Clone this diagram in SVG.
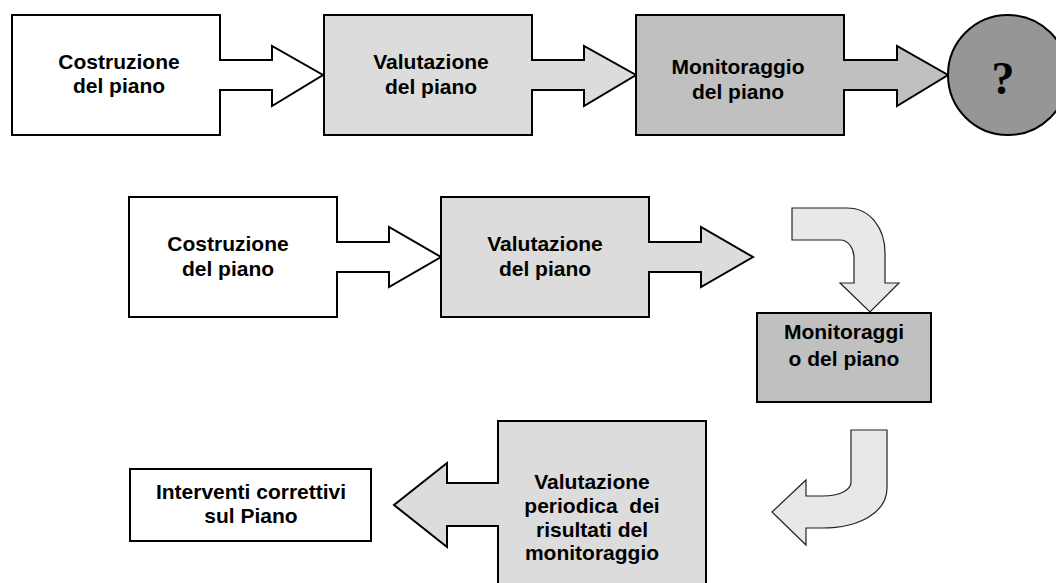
<svg xmlns="http://www.w3.org/2000/svg" width="1056" height="583" viewBox="0 0 1056 583">
<style>
.shape{stroke:#000;stroke-width:2;stroke-linejoin:miter}
.w{fill:#ffffff}
.l{fill:#dcdcdc}
.m{fill:#c0c0c0}
.c{fill:#969696}
.curve{fill:#e8e8e8;stroke:#222;stroke-width:1.2}
text{font-family:"Liberation Sans",Arial,sans-serif;font-weight:bold;font-size:21px;fill:#000;text-anchor:middle}
.q{font-family:"Liberation Serif","Times New Roman",serif;font-size:46px}
</style>
<rect width="1056" height="583" fill="#fff"/>
<g id="n1">
<polygon class="shape w" points="12,15 220,15 220,60 272,60 272,46 323,75 272,106 272,90 220,90 220,135 12,135"/>
<text x="119" y="69">Costruzione</text>
<text x="119" y="93">del piano</text>
</g>
<g id="n2">
<polygon class="shape l" points="324,15 532,15 532,60 584,60 584,46 636,75 584,106 584,90 532,90 532,135 324,135"/>
<text x="431" y="69">Valutazione</text>
<text x="431" y="94">del piano</text>
</g>
<g id="n3">
<polygon class="shape m" points="636,15 844,15 844,60 897,60 897,46 948,75 897,106 897,90 844,90 844,135 636,135"/>
<text x="738" y="74">Monitoraggio</text>
<text x="738" y="99">del piano</text>
</g>
<g id="n4">
<circle class="shape c" cx="1008" cy="75" r="60"/>
<text class="q" x="1003" y="94">?</text>
</g>
<g id="n5">
<polygon class="shape w" points="129,197 337,197 337,242 389,242 389,227 441,257 389,287 389,272 337,272 337,317 129,317"/>
<text x="228" y="251">Costruzione</text>
<text x="228" y="276">del piano</text>
</g>
<g id="n6">
<polygon class="shape l" points="441,197 649,197 649,242 701,242 701,227 753,257 701,287 701,272 649,272 649,317 441,317"/>
<text x="545" y="251">Valutazione</text>
<text x="545" y="276">del piano</text>
</g>
<g id="n7">
<rect class="shape m" x="757" y="313" width="174" height="89"/>
<text x="844" y="339">Monitoraggi</text>
<text x="844" y="366">o del piano</text>
</g>
<g id="n8">
<polygon class="shape l" points="498,421 706,421 706,590 498,590 498,526 447,526 447,547 394,505 447,463 447,483 498,483"/>
<text x="592" y="489">Valutazione</text>
<text x="592" y="513" xml:space="preserve">periodica  dei</text>
<text x="592" y="537">risultati del</text>
<text x="592" y="560">monitoraggio</text>
</g>
<g id="n9">
<rect class="shape w" x="130" y="469" width="241" height="72"/>
<text x="251" y="499">Interventi correttivi</text>
<text x="251" y="523">sul Piano</text>
</g>
<g id="connectors">
<path class="curve" d="M792,208 L847,208 C870,208 885,228 885,253 L885,283 L899,283 L870,312 L840,283 L854,283 L854,258 C854,248 848,240 840,240 L792,240 Z"/>
<path class="curve" d="M851,430 L887,430 L887,488 C887,512 860,528 822,528 L806,528 L806,545 L772,512 L806,480 L806,496 L823,496 C840,496 851,490 851,482 Z"/>
</g>
</svg>
